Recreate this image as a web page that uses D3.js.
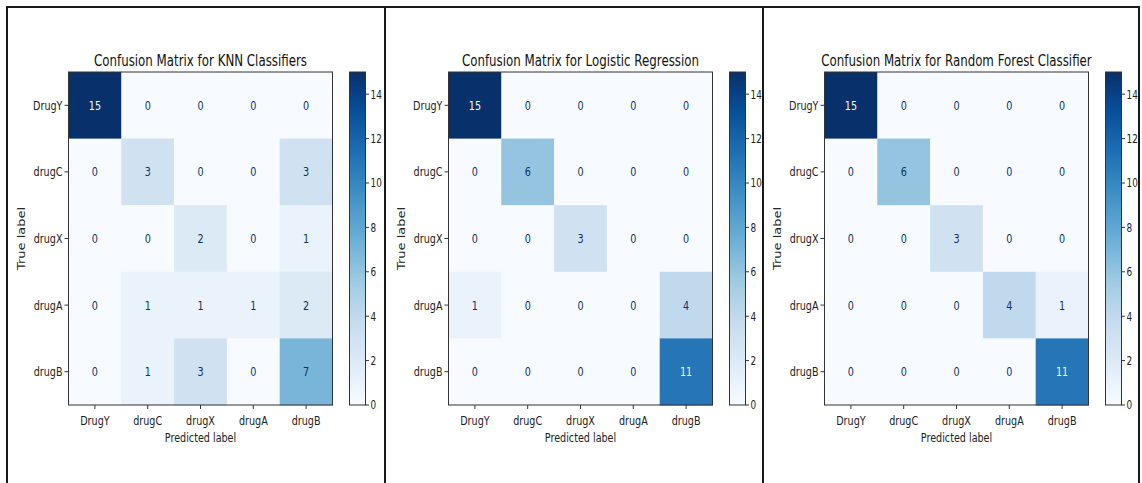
<!DOCTYPE html>
<html>
<head>
<meta charset="utf-8">
<script src="https://cdn.jsdelivr.net/npm/d3@7"></script>
<style>
  html, body { margin: 0; padding: 0; background: #fff; }
  svg { display: block; font-family: "DejaVu Sans", sans-serif; }
</style>
</head>
<body>
<div id="chart"></div>
<script>
// Données : étiquettes et matrices de confusion
const labels = ["DrugY", "drugC", "drugX", "drugA", "drugB"];
const titles = [
  "Confusion Matrix for KNN Classifiers",
  "Confusion Matrix for Logistic Regression",
  "Confusion Matrix for Random Forest Classifier"
];
const knnMatrix = [
  [15, 0, 0, 0, 0],
  [0, 3, 0, 0, 3],
  [0, 0, 2, 0, 1],
  [0, 1, 1, 1, 2],
  [0, 1, 3, 0, 7]
];
const logregMatrix = [
  [15, 0, 0, 0, 0],
  [0, 6, 0, 0, 0],
  [0, 0, 3, 0, 0],
  [1, 0, 0, 0, 4],
  [0, 0, 0, 0, 11]
];
const forestMatrix = [
  [15, 0, 0, 0, 0],
  [0, 6, 0, 0, 0],
  [0, 0, 3, 0, 0],
  [0, 0, 0, 4, 1],
  [0, 0, 0, 0, 11]
];
const colorbarTicks = [0, 2, 4, 6, 8, 10, 12, 14];

const matrices = [knnMatrix, logregMatrix, forestMatrix];

// Dimensions
const W = 1142, H = 483;
const panelLeft = [68.5, 448.5, 824.5];
const mapW = 264, mapTop = 72, mapH = 333;
const sx = 0.74; // l'image d'origine est comprimée horizontalement

// Palette "Blues" de matplotlib
const bluesStops = ["#f7fbff", "#deebf7", "#c6dbef", "#9ecae1", "#6baed6",
                    "#4292c6", "#2171b5", "#08519c", "#08306b"];

const svg = d3.select("#chart").append("svg")
  .attr("width", W).attr("height", H);

// Texte compressé horizontalement
function label(g, x, y, txt, size, anchor, fill, rotate) {
  return g.append("text")
    .attr("transform", `translate(${x},${y})${rotate ? " rotate(-90)" : ""} scale(${rotate ? 1 : sx},${rotate ? sx : 1})`)
    .attr("text-anchor", anchor)
    .attr("font-size", size)
    .attr("fill", fill || "#222")
    .text(txt);
}

// Cadres du tableau
const borders = [7, 385, 763, 1139];
borders.forEach(x => {
  svg.append("line").attr("x1", x).attr("x2", x).attr("y1", 7).attr("y2", H)
    .attr("stroke", "#1a1a1a").attr("stroke-width", 2);
});
svg.append("line").attr("x1", 6).attr("x2", 1140).attr("y1", 7).attr("y2", 7)
  .attr("stroke", "#1a1a1a").attr("stroke-width", 2);

matrices.forEach((m, i) => {
  const x0 = panelLeft[i];
  const g = svg.append("g");
  const flat = m.flat();
  const vmin = d3.min(flat), vmax = d3.max(flat);

  const color = d3.scaleLinear()
    .domain(d3.range(bluesStops.length).map(k => vmin + (vmax - vmin) * k / (bluesStops.length - 1)))
    .range(bluesStops)
    .interpolate(d3.interpolateRgb);

  const x = d3.scaleBand().domain(labels).range([x0, x0 + mapW]);
  const y = d3.scaleBand().domain(labels).range([mapTop, mapTop + mapH]);

  const cells = [];
  m.forEach((row, r) => row.forEach((v, c) => cells.push({ r, c, v })));

  g.selectAll("rect.cell").data(cells).enter().append("rect")
    .attr("class", "cell")
    .attr("x", d => x(labels[d.c]))
    .attr("y", d => y(labels[d.r]))
    .attr("width", x.bandwidth() + 0.5)
    .attr("height", y.bandwidth() + 0.5)
    .attr("fill", d => color(d.v));

  const thresh = (vmax + vmin) / 2;
  cells.forEach(d => {
    label(g, x(labels[d.c]) + x.bandwidth() / 2, y(labels[d.r]) + y.bandwidth() / 2 + 4.5,
      d.v, 13, "middle", d.v >= thresh ? "#f7fbff" : "#08306b");
  });

  // Cadre du graphique
  g.append("rect").attr("x", x0).attr("y", mapTop).attr("width", mapW).attr("height", mapH)
    .attr("fill", "none").attr("stroke", "#333").attr("stroke-width", 1);

  // Graduations X
  labels.forEach(l => {
    const cx = x(l) + x.bandwidth() / 2;
    g.append("line").attr("x1", cx).attr("x2", cx).attr("y1", mapTop + mapH).attr("y2", mapTop + mapH + 4)
      .attr("stroke", "#333");
    label(g, cx, mapTop + mapH + 20, l, 13, "middle");
  });
  // Graduations Y
  labels.forEach(l => {
    const cy = y(l) + y.bandwidth() / 2;
    g.append("line").attr("x1", x0 - 4).attr("x2", x0).attr("y1", cy).attr("y2", cy)
      .attr("stroke", "#333");
    label(g, x0 - 6, cy + 4.5, l, 13, "end");
  });

  label(g, x0 + mapW / 2, 66, titles[i], 16, "middle", "#111");
  label(g, x0 + mapW / 2, 442, "Predicted label", 13, "middle");
  label(g, x0 - 44, mapTop + mapH / 2, "True label", 13, "middle", "#222", true);

  // Barre de couleur
  const cbX = x0 + 281, cbW = 16;
  const cbScale = d3.scaleLinear().domain([vmin, vmax]).range([mapTop + mapH, mapTop]);
  const gradId = "grad" + i;
  const grad = svg.append("defs").append("linearGradient").attr("id", gradId)
    .attr("x1", 0).attr("x2", 0).attr("y1", 1).attr("y2", 0);
  bluesStops.forEach((c, k) => {
    grad.append("stop").attr("offset", k / (bluesStops.length - 1)).attr("stop-color", c);
  });
  g.append("rect").attr("x", cbX).attr("y", mapTop).attr("width", cbW).attr("height", mapH)
    .attr("fill", `url(#${gradId})`).attr("stroke", "#333").attr("stroke-width", 1);

  colorbarTicks.forEach(t => {
    const ty = cbScale(t);
    g.append("line").attr("x1", cbX + cbW).attr("x2", cbX + cbW + 3.5).attr("y1", ty).attr("y2", ty)
      .attr("stroke", "#333");
    label(g, cbX + cbW + 5, ty + 4.3, t, 12, "start");
  });
});
</script>
</body>
</html>
